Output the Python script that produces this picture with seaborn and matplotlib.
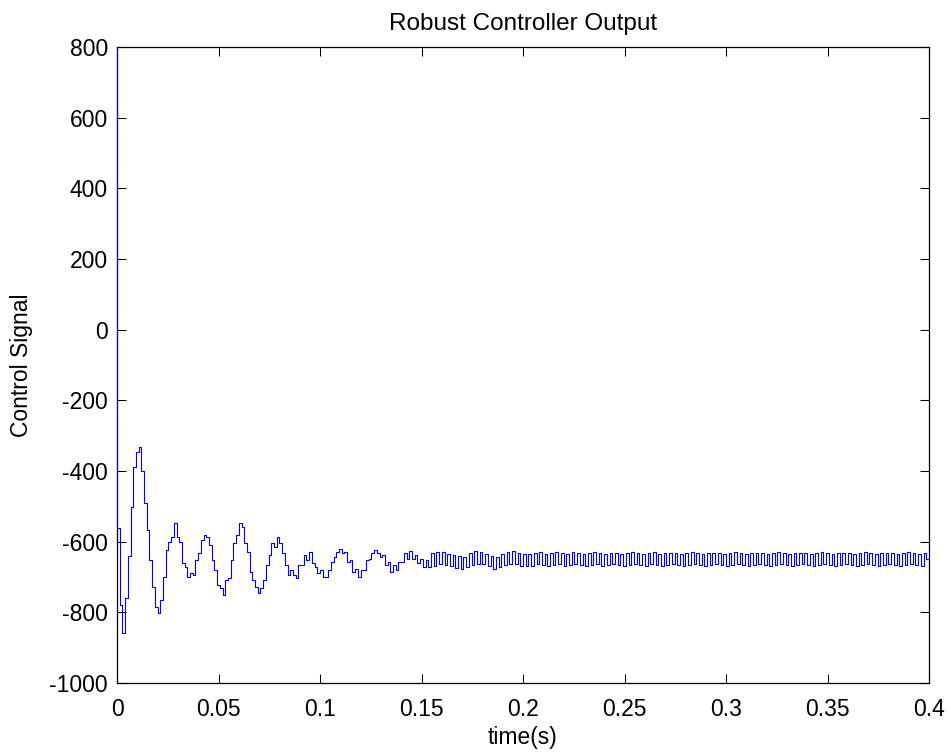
import numpy as np
import pandas as pd
import matplotlib
matplotlib.use("Agg")
import matplotlib.pyplot as plt
import seaborn as sns

# ---- data ----
sample_time = 0.4 / 300  # seconds between held samples

signal_early = [
    800, -560, -780, -858, -760, -640, -501, -390, -345, -332,
    -400, -491, -567, -652, -728, -784, -802, -765, -699, -624,
    -600, -586, -547, -586, -600, -661, -671, -699, -689, -695,
    -652, -633, -595, -581, -586, -610, -652, -680, -723, -731,
    -751, -709, -703, -652, -604, -581, -547, -558, -604, -629,
    -685, -709, -727, -745, -731, -709, -666, -638, -604, -614,
    -587, -604, -633, -666, -694, -680, -694, -703, -666, -666,
    -638, -652, -629, -661, -671, -689, -680, -699, -699, -680,
    -657, -643, -629, -620, -633, -629, -657, -652, -685, -676,
    -699, -680, -680, -652, -648, -633, -624, -633, -643, -638,
    -666, -657, -685, -666, -680, -657, -657, -633, -648, -627,
    -648, -638, -661, -648, -671, -652, -671,
]

signal_steady = [
    -632, -668, -628, -664, -630, -667, -634, -670, -638, -674,
    -640, -678, -642, -672, -632, -666, -626, -662, -628, -664,
    -634, -670, -640, -676, -642, -672, -636, -666, -628, -662,
    -626, -664, -632, -668, -636, -670, -634, -668, -632, -664,
    -630, -666, -634, -668, -632, -666, -630, -664, -632, -668,
    -634, -666, -630, -664, -632, -667, -635, -668, -632, -665,
    -630, -664, -633, -668, -634, -666, -631, -664, -632, -667,
    -634, -668, -632, -665, -630, -664, -633, -667, -635, -668,
    -632, -664, -630, -666, -634, -668, -633, -665, -631, -664,
    -633, -667, -635, -668, -632, -665, -630, -664, -632, -666,
    -634, -668, -633, -665, -631, -664, -633, -667, -635, -668,
    -632, -665, -630, -664, -632, -666, -634, -668, -633, -665,
    -631, -664, -633, -667, -635, -668, -632, -665, -630, -664,
    -632, -666, -634, -668, -633, -665, -631, -664, -633, -667,
    -635, -668, -632, -665, -630, -664, -632, -666, -634, -668,
    -633, -665, -631, -664, -633, -667, -635, -668, -632, -665,
    -630, -664, -632, -666, -634, -668, -633, -665, -631, -664,
    -633, -667, -635, -668, -632, -665, -630, -664, -632, -666,
    -634, -668, -633, -650,
]

x_ticks = [0, 0.05, 0.1, 0.15, 0.2, 0.25, 0.3, 0.35, 0.4]
x_tick_labels = ["0", "0.05", "0.1", "0.15", "0.2", "0.25", "0.3", "0.35", "0.4"]
y_ticks = [-1000, -800, -600, -400, -200, 0, 200, 400, 600, 800]
y_tick_labels = [str(v) for v in y_ticks]

title_text = "Robust Controller Output"
x_label = "time(s)"
y_label = "Control Signal"

# ---- build table ----
signal = signal_early + signal_steady
time = np.arange(len(signal)) * sample_time
df = pd.DataFrame({"time": time, "signal": signal})

# ---- style ----
sns.set_theme(style="white")
plt.rcParams["font.family"] = ["Liberation Sans", "DejaVu Sans"]
plt.rcParams["axes.unicode_minus"] = False

fig = plt.figure(figsize=(9.51, 7.54), dpi=100)
ax = fig.add_axes([117 / 951, 71 / 754, 812 / 951, 636 / 754])

sns.lineplot(data=df, x="time", y="signal", drawstyle="steps-pre",
             color="#0000ff", linewidth=0.8, estimator=None, ax=ax,
             zorder=3)
for ln in ax.lines:
    ln.set_clip_on(False)

ax.set_xlim(0, 0.4)
ax.set_ylim(-1000, 800)
ax.set_xticks(x_ticks)
ax.set_xticklabels(x_tick_labels)
ax.set_yticks(y_ticks)
ax.set_yticklabels(y_tick_labels)

fs = 16.5
ax.tick_params(axis="both", which="major", direction="in", length=6.5,
               width=0.75, color="black", labelsize=fs, labelcolor="black",
               top=True, right=True, bottom=True, left=True)
ax.tick_params(axis="x", pad=10.5)
ax.tick_params(axis="y", pad=6.5)

for sp in ax.spines.values():
    sp.set_color("black")
    sp.set_linewidth(0.9)
    sp.set_visible(True)

ax.set_title(title_text, fontsize=17.5, color="black", pad=12)
ax.set_xlabel(x_label, fontsize=fs, color="black")
ax.set_ylabel(y_label, fontsize=fs, color="black")
ax.xaxis.set_label_coords(0.5, -0.068)
ax.yaxis.set_label_coords(-0.104, 0.5)
ax.grid(False)

fig.savefig("out.png", dpi=100, facecolor="white")
